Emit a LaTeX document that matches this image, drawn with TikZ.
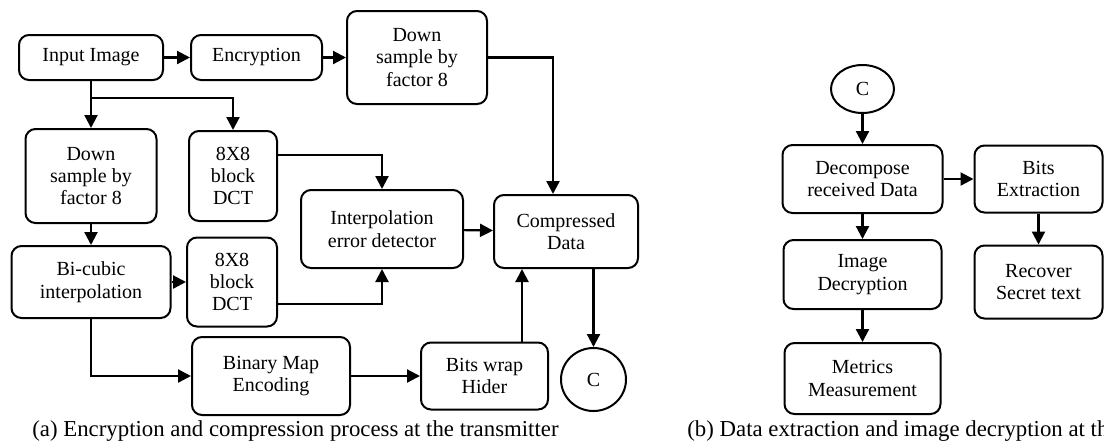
\documentclass[tikz,border=0pt]{standalone}
\usepackage{fontspec}
\setmainfont{Liberation Serif}
\usetikzlibrary{positioning, arrows.meta, shapes.geometric}

\begin{document}
\begin{tikzpicture}
	[x=0.5pt, y=-0.5pt, on grid,
	 box/.style={draw, line width=1pt, rounded corners=5pt, align=center, inner sep=1pt,
	   font=\fontsize{10}{11.2}\selectfont},
	 circ/.style={draw, ellipse, line width=1pt, inner sep=0pt, font=\fontsize{10}{11.2}\selectfont},
	 arr/.style={-{Triangle[length=6.5pt,width=6.5pt]}, line width=1.1pt},
	 captext/.style={anchor=west, inner sep=0pt, font=\fontsize{11.4}{13}\selectfont}]
   \clip (0,0) rectangle (1104,441);
   % transmitter
   \node[box, minimum width=72pt, minimum height=22.5pt] (in) at (91,57.5) {Input Image};
   \node[box, minimum width=65.5pt, minimum height=22.5pt] (enc) [right=82.75pt of in] {Encryption};
   \node[box, minimum width=70pt, minimum height=46.5pt] (dsa) [right=80.25pt of enc] {Down\\sample by\\factor 8};
   \node[box, minimum width=65.5pt, minimum height=47pt] (dsb) [below=59.25pt of in] {Down\\sample by\\factor 8};
   \node[box, minimum width=44pt, minimum height=45pt] (dcta) [right=71pt of dsb] {8X8\\block\\DCT};
   \node[box, minimum width=79.5pt, minimum height=36pt] (bicub) [below=53pt of dsb] {Bi-cubic\\interpolation};
   \node[box, minimum width=45pt, minimum height=44.5pt] (dctb) [right=70.5pt of bicub] {8X8\\block\\DCT};
   \node[box, minimum width=81pt, minimum height=39pt] (interp) at (382,229) {Interpolation\\error detector};
   \node[box, minimum width=72pt, minimum height=36.5pt] (comp) at (566,231.5) {Compressed\\Data};
   \node[box, minimum width=79pt, minimum height=39pt] (bmap) at (271,376) {Binary Map\\Encoding};
   \node[box, minimum width=63.5pt, minimum height=33.5pt] (bits) [right=106.75pt of bmap] {Bits wrap\\Hider};
   \node[circ, minimum width=32.5pt, minimum height=31.5pt] (ca) at (593.5,379.5) {C};
   % receiver
   \node[circ, minimum width=31.5pt, minimum height=24pt] (cb) at (862.5,89) {C};
   \node[box, minimum width=80pt, minimum height=34pt] (dec) [below=45pt of cb] {Decompose\\received Data};
   \node[box, minimum width=64pt, minimum height=33.5pt] (bex) [right=88pt of dec] {Bits\\Extraction};
   \node[box, minimum width=64pt, minimum height=36.5pt] (rec) [below=51.5pt of bex] {Recover\\Secret text};
   \node[box, minimum width=79pt, minimum height=34.5pt] (idec) [below=47.75pt of dec] {Image\\Decryption};
   \node[box, minimum width=78pt, minimum height=35.5pt] (met) [below=52pt of idec] {Metrics\\Measurement};
   % captions
   \node[captext] (capa) at (32,431) {(a) Encryption and compression process at the transmitter};
   \node[captext] (capb) at (687,431) {(b) Data extraction and image decryption at the receiver};

   \coordinate (jn) at ([yshift=-8.5pt]in.south);
   \draw[arr] (in) -- (enc);
   \draw[arr] (enc.east) -- (enc.east -| dsa.west);
   \draw[arr] (dsa.east) -| ([xshift=-6.5pt]comp.north);
   \draw[arr] (in) -- (dsb);
   \draw[arr] (jn) -| (dcta.north);
   \draw[arr] ([yshift=10.5pt]dcta.east) -| (interp.north);
   \draw[arr] (dsb) -- (bicub);
   \draw[arr] (bicub) -- (dctb);
   \draw[arr] ([yshift=-11pt]dctb.east) -| (interp.south);
   \draw[arr] (interp) -- (comp);
   \draw[arr] (bicub.south) |- (bmap);
   \draw[arr] (bmap) -- (bits);
   \draw[arr] ([xshift=18.75pt]bits.north) -- ([xshift=18.75pt]bits.north |- comp.south);
   \draw[arr] (ca.north |- comp.south) -- (ca.north);
   \draw[arr] (cb) -- (dec);
   \draw[arr] (dec) -- (bex);
   \draw[arr] (bex) -- (rec);
   \draw[arr] (dec) -- (idec);
   \draw[arr] (idec) -- (met);
\end{tikzpicture}
\end{document}
